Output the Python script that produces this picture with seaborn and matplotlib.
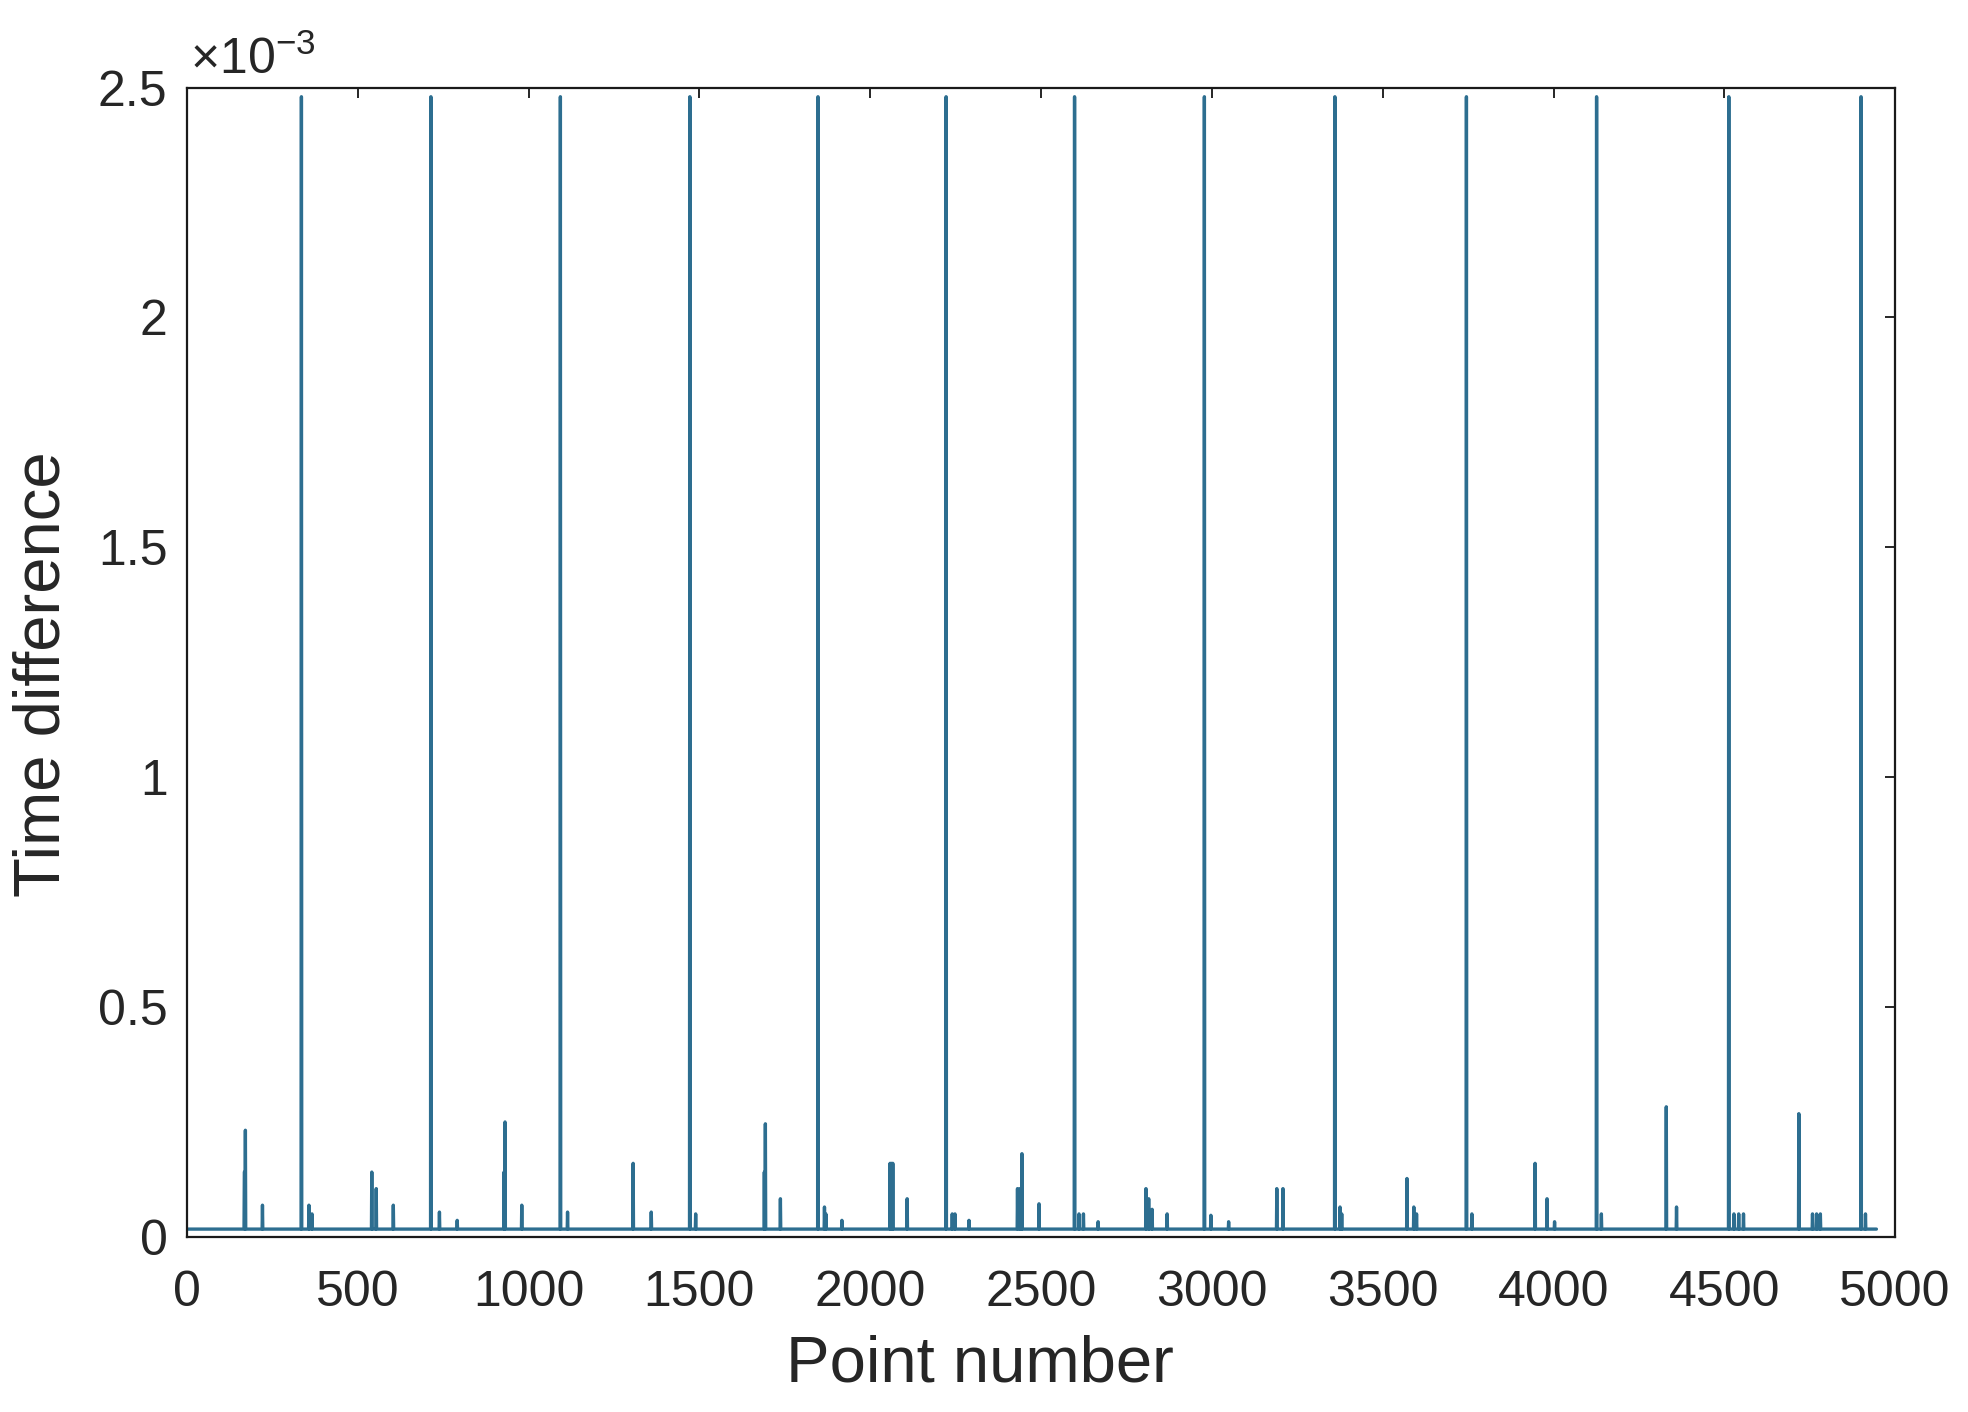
import numpy as np
import pandas as pd
import matplotlib
matplotlib.use("Agg")
import matplotlib.pyplot as plt
import seaborn as sns

# valores (eixo y em unidades de 1e-3)
n_points = 4945
baseline_val = 0.017

big_idx = [335, 714, 1093, 1472, 1847, 2222, 2598, 2978, 3360, 3745, 4126, 4513, 4900]
big_val = [2.48, 2.48, 2.48, 2.48, 2.48, 2.48, 2.48, 2.48, 2.48, 2.48, 2.48, 2.48, 2.48]

small_idx = [168, 169, 171, 221, 357, 366, 541, 554, 604, 739, 791,
             928, 931, 980, 1114, 1306, 1359, 1489, 1690, 1693, 1737,
             1866, 1870, 1917, 2058, 2062, 2066, 2108, 2240, 2248, 2289,
             2431, 2438, 2444, 2494, 2611, 2624, 2667, 2807, 2815, 2825,
             2869, 2997, 3049, 3190, 3208, 3375, 3380, 3571, 3591, 3599,
             3761, 3946, 3981, 4003, 4140, 4330, 4360, 4528, 4542, 4556,
             4718, 4758, 4770, 4781, 4913]
small_val = [0.141, 0.141, 0.232, 0.069, 0.069, 0.05, 0.141, 0.105, 0.069, 0.054, 0.036,
             0.141, 0.25, 0.069, 0.054, 0.16, 0.054, 0.05, 0.141, 0.246, 0.083,
             0.065, 0.05, 0.036, 0.16, 0.16, 0.16, 0.083, 0.05, 0.05, 0.036,
             0.105, 0.105, 0.181, 0.072, 0.05, 0.05, 0.033, 0.105, 0.083, 0.06,
             0.05, 0.047, 0.033, 0.105, 0.105, 0.065, 0.05, 0.127, 0.065, 0.05,
             0.05, 0.16, 0.083, 0.033, 0.05, 0.283, 0.065, 0.05, 0.05, 0.05,
             0.268, 0.05, 0.05, 0.05, 0.05]

x_ticks = [0, 500, 1000, 1500, 2000, 2500, 3000, 3500, 4000, 4500, 5000]
y_ticks = [0, 0.5, 1, 1.5, 2, 2.5]
y_ticklabels = ["0", "0.5", "1", "1.5", "2", "2.5"]

# %%
y = np.full(n_points, baseline_val)
y[np.array(big_idx) - 1] = big_val
y[np.array(small_idx) - 1] = small_val
df = pd.DataFrame({"ponto": np.arange(1, n_points + 1), "dif": y})

sns.set_style("white")
plt.rcParams["font.family"] = ["Liberation Sans", "DejaVu Sans"]
plt.rcParams["mathtext.fontset"] = "custom"
plt.rcParams["mathtext.rm"] = "Liberation Sans"

fig = plt.figure(figsize=(9.84, 7.06), dpi=200)
ax = fig.add_axes([0.095, 0.124, 0.868, 0.814])

sns.lineplot(data=df, x="ponto", y="dif", color="#2D6E90", linewidth=1.2,
             estimator=None, errorbar=None, ax=ax)

ax.set_xlim(0, 5000)
ax.set_ylim(0, 2.5)
ax.set_xticks(x_ticks)
ax.set_yticks(y_ticks)
ax.set_yticklabels(y_ticklabels)
ax.tick_params(direction="in", length=3.6, width=0.7, top=True, right=True,
               labelsize=18, colors="#262626")
ax.tick_params(axis="x", pad=12)
ax.tick_params(axis="y", pad=7)
for s in ax.spines.values():
    s.set_linewidth(0.8)
    s.set_color("#1a1a1a")

ax.set_xlabel("Point number", fontsize=23.5, color="#262626")
ax.set_ylabel("Time difference", fontsize=23.5, color="#262626")
ax.xaxis.set_label_coords(0.464, -0.085)
ax.yaxis.set_label_coords(-0.067, 0.49)

# multiplicador do eixo y no estilo matlab
ax.text(0.002, 1.003, r"$\times\mathregular{10^{-3}}$", transform=ax.transAxes,
        fontsize=18, color="#262626", ha="left", va="bottom")

fig.savefig("out.png", dpi=200)
